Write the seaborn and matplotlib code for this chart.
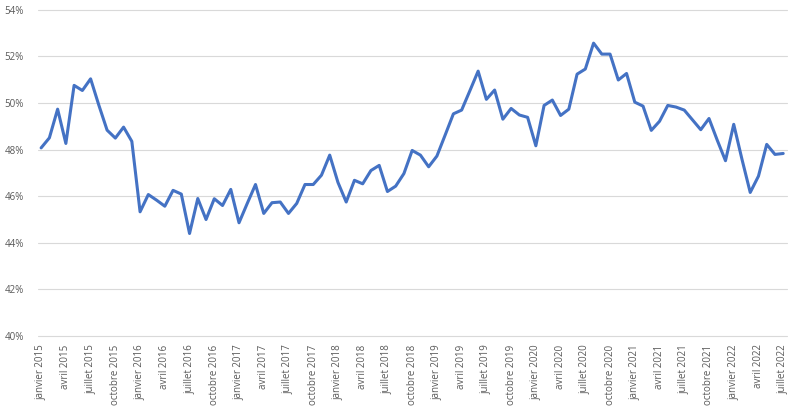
import matplotlib
matplotlib.use("Agg")
import matplotlib.pyplot as plt
import seaborn as sns
import pandas as pd
import numpy as np
from matplotlib.ticker import FuncFormatter

mois = ["janvier", "février", "mars", "avril", "mai", "juin", "juillet",
        "août", "septembre", "octobre", "novembre", "décembre"]
annees = list(range(2015, 2023))

valeurs = [
    48.07, 48.50, 49.73, 48.26, 50.75, 50.53, 51.03, 49.90, 48.83, 48.49, 48.96, 48.35,
    45.33, 46.07, 45.83, 45.57, 46.25, 46.09, 44.40, 45.90, 45.00, 45.89, 45.60, 46.29,
    44.86, 45.69, 46.50, 45.26, 45.72, 45.75, 45.26, 45.69, 46.50, 46.50, 46.90, 47.76,
    46.59, 45.75, 46.68, 46.53, 47.10, 47.32, 46.20, 46.43, 46.97, 47.96, 47.76, 47.26,
    47.72, 48.62, 49.53, 49.69, 50.52, 51.36, 50.15, 50.55, 49.30, 49.76, 49.48, 49.38,
    48.16, 49.89, 50.12, 49.46, 49.73, 51.23, 51.45, 52.56, 52.09, 52.09, 50.98, 51.26,
    50.03, 49.86, 48.82, 49.21, 49.89, 49.82, 49.69, 49.27, 48.85, 49.33, 48.40, 47.52,
    49.08, 47.58, 46.16, 46.86, 48.22, 47.79, 47.83,
]

periodes = [f"{m} {a}" for a in annees for m in mois][:len(valeurs)]
df = pd.DataFrame({"i": range(len(valeurs)), "periode": periodes, "valeur": valeurs})

sns.set_theme(style="white")
plt.rcParams["font.family"] = ["Open Sans", "DejaVu Sans"]

fig = plt.figure(figsize=(7.98, 4.15), dpi=100)
ax = fig.add_axes([0.0472, 0.190, 0.9386, 0.787])

sns.lineplot(data=df, x="i", y="valeur", ax=ax, color="#4472C4", linewidth=2.2)

ax.set_ylim(40, 54)
ax.set_yticks(np.arange(40, 55, 2))
ax.yaxis.set_major_formatter(FuncFormatter(lambda v, p: f"{v:.0f}%"))
ax.set_xlim(-0.42, len(valeurs) - 1 + 0.42)
tick_pos = list(range(0, len(valeurs), 3))
ax.set_xticks(tick_pos)
ax.set_xticklabels([periodes[i] for i in tick_pos], rotation=90)
ax.tick_params(axis="both", length=0, labelsize=7, colors="#595959")
ax.tick_params(axis="y", pad=10)
ax.tick_params(axis="x", pad=6)
ax.grid(axis="y", color="#d9d9d9", linewidth=0.8)
for gl in ax.get_ygridlines():
    gl.set_clip_on(False)
ax.set_axisbelow(True)
for s in ax.spines.values():
    s.set_visible(False)
ax.set_xlabel("")
ax.set_ylabel("")

fig.savefig("out.png", dpi=100)
